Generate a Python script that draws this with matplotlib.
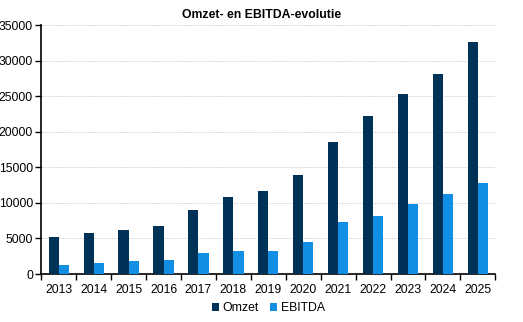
import matplotlib
matplotlib.use("Agg")
import matplotlib.pyplot as plt
import numpy as np

years = ["2013", "2014", "2015", "2016", "2017", "2018", "2019",
         "2020", "2021", "2022", "2023", "2024", "2025"]
omzet = [5200, 5800, 6200, 6800, 9000, 10800, 11700,
         13900, 18600, 22200, 25300, 28100, 32600]
ebitda = [1200, 1500, 1900, 2000, 2900, 3300, 3200,
          4500, 7300, 8200, 9900, 11300, 12800]

plt.rcParams['font.family'] = ['Liberation Sans', 'DejaVu Sans']
fs = 8.8

fig = plt.figure(figsize=(5.23, 3.22), dpi=100)
ax = fig.add_axes([0.079, 0.149, 0.868, 0.773])

x = np.arange(len(years))
w = 0.29
ax.bar(x - w / 2, omzet, width=w, color='#003157', label='Omzet', zorder=3)
ax.bar(x + w / 2, ebitda, width=w, color='#118fe4', label='EBITDA', zorder=3)

ax.set_xlim(-0.5, len(years) - 0.5)
ax.set_ylim(0, 35000)
ax.set_yticks(range(0, 35001, 5000))
ax.tick_params(axis='y', labelsize=fs, length=4, width=1, direction='out', pad=2)
ax.set_xticks(x)
ax.set_xticklabels(years)
ax.tick_params(axis='x', which='major', length=0, labelsize=fs, pad=7)
ax.set_xticks(np.arange(-0.5, len(years), 1), minor=True)
ax.tick_params(axis='x', which='minor', length=4, width=1, direction='out')

ax.grid(axis='y', color='#cccccc', linestyle=(0, (2, 1.5)), linewidth=0.6, zorder=0)
ax.spines['top'].set_visible(False)
ax.spines['right'].set_visible(False)
for s in ['left', 'bottom']:
    ax.spines[s].set_linewidth(1.2)
    ax.spines[s].set_color('black')

fig.text(0.5, 0.953, "Omzet- en EBITDA-evolutie", ha='center', va='center',
         fontsize=fs, fontweight='bold')

ax.legend(loc='upper center', bbox_to_anchor=(0.5, -0.07), ncol=2, frameon=False,
          fontsize=fs, handlelength=0.6, handleheight=0.6, handletextpad=0.3,
          columnspacing=0.9)

fig.savefig("out.png", dpi=100)
